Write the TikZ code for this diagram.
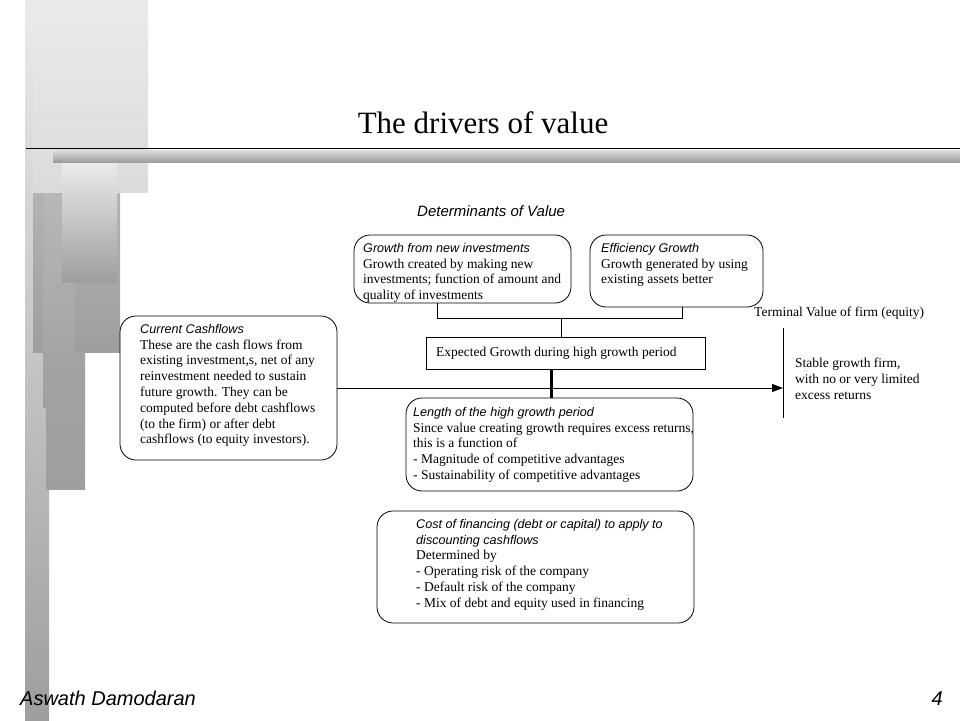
\documentclass[tikz,border=0pt]{standalone}
\usepackage{fontspec}
\setmainfont{Liberation Serif}
\setsansfont{Liberation Sans}
\usetikzlibrary{arrows.meta}
\newcommand\dvhd{\fontsize{12.6}{15.8}\selectfont\sffamily\itshape}
\definecolor{gA}{gray}{0.92}
\definecolor{gB}{gray}{0.86}
\definecolor{gC}{gray}{0.62}
\definecolor{gD}{gray}{0.72}
\definecolor{gE}{gray}{0.80}
\begin{document}
\begin{tikzpicture}[x=1pt,y=-1pt,
  box/.style={draw, line width=0.8pt, rounded corners=16pt, inner sep=0pt},
  sbox/.style={draw, line width=0.8pt, inner sep=0pt},
  txt/.style={anchor=north west, inner sep=0pt, align=left, font=\fontsize{13.5}{15.8}\selectfont},
  conn/.style={line width=0.8pt}]
\useasboundingbox (0,0) rectangle (960,720);
% decorative background bars
\shade[top color=gA, bottom color=gC] (25,0) rectangle (49,720);
\shade[top color=gE, bottom color=gC] (33,0) rectangle (120,352);
\shade[top color=gD, bottom color=gC] (43,190) rectangle (75,407);
\shade[top color=gC!95!white, bottom color=gC] (46,352) rectangle (85,489);
\shade[top color=gA, bottom color=gB] (33,0) rectangle (148,192);
\shade[top color=gA, bottom color=gC] (62,162) rectangle (117,282);
\shade[top color=gB, bottom color=gC] (53,150) rectangle (960,162);
\draw[line width=1pt] (26,148) -- (960,148);
% title
\node[anchor=base, inner sep=0pt, font=\fontsize{31}{36}\selectfont] (title) at (483,133) {The drivers of value};
\node[anchor=base west, inner sep=0pt, font=\fontsize{15}{17}\selectfont\sffamily\itshape] (det) at (417,216) {Determinants of Value};
% boxes
\node[box, minimum width=217pt, minimum height=68pt] (grw) at (462.5,269) {};
\node[box, minimum width=173pt, minimum height=72pt] (eff) at (676.5,271) {};
\node[sbox, minimum width=279pt, minimum height=32pt] (exp) at (565.5,353) {};
\node[box, minimum width=217pt, minimum height=144pt] (cur) at (228.5,388) {};
\node[box, minimum width=287pt, minimum height=93pt] (len) at (549.5,444.5) {};
\node[box, minimum width=317pt, minimum height=112pt] (cost) at (535.5,567) {};
% texts
\node[txt] (grwt) at (363,243) {{\dvhd Growth from new investments}\\Growth created by making new\\investments; function of amount and\\quality of investments};
\node[txt] (efft) at (601,243) {{\dvhd Efficiency Growth}\\Growth generated by using\\existing assets better};
\node[anchor=west, inner sep=0pt, font=\fontsize{13.5}{15.8}\selectfont] (expt) at (436,353) {Expected Growth during high growth period};
\node[txt] (curt) at (140,324) {{\dvhd Current Cashflows}\\These are the cash flows from\\existing investment,s, net of any\\reinvestment needed to sustain\\future growth. They can be\\computed before debt cashflows\\(to the firm) or after debt\\cashflows (to equity investors).};
\node[txt] (lent) at (413,407) {{\dvhd Length of the high growth period}\\Since value creating growth requires excess returns,\\this is a function of\\- Magnitude of competitive advantages\\- Sustainability of competitive advantages};
\node[txt] (costt) at (416,519) {{\dvhd Cost of financing (debt or capital) to apply to}\\{\dvhd discounting cashflows}\\Determined by\\- Operating risk of the company\\- Default risk of the company\\- Mix of debt and equity used in financing};
\node[anchor=base west, inner sep=0pt, font=\fontsize{13.5}{15.8}\selectfont] (term) at (754,316) {Terminal Value of firm (equity)};
\node[txt] (stab) at (795,358) {Stable growth firm,\\with no or very limited\\excess returns};
% connectors
\coordinate (brl) at (437,318);
\coordinate (brr) at (682,318);
\coordinate (brm) at (561,318);
\coordinate (thk) at (551,0);
\coordinate (tvt) at (783,328);
\coordinate (tvb) at (783,418);
\draw[conn] (brl |- grw.south) -- (brl) -- (brr) -- (brr |- eff.south);
\draw[conn] (brm) -- (brm |- exp.north);
\draw[line width=3pt] (thk |- exp.south) -- (thk |- len.north);
\draw[conn] (tvt) -- (tvb);
\draw[conn, -{Triangle[length=11pt,width=8pt]}] (cur.east) -- (cur.east -| tvt);
% footer
\node[anchor=base west, inner sep=0pt, font=\fontsize{20}{22}\selectfont\sffamily\itshape] (auth) at (20,705) {Aswath Damodaran};
\node[anchor=base east, inner sep=0pt, font=\fontsize{20}{22}\selectfont\sffamily\itshape] (pg) at (943,705) {4};
\end{tikzpicture}
\end{document}
